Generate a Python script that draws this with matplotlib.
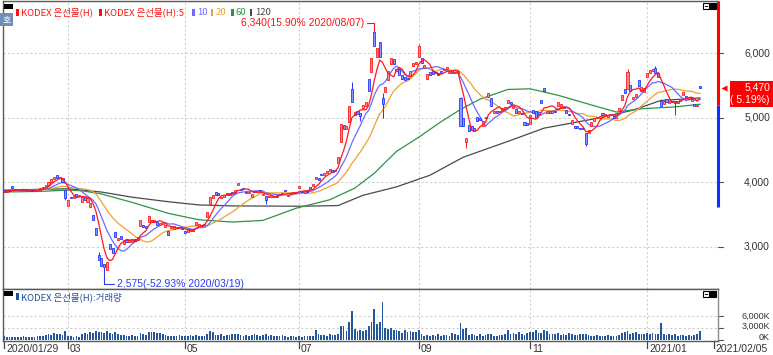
import numpy as np
import pandas as pd
import matplotlib
matplotlib.use('Agg')
import matplotlib.pyplot as plt
import matplotlib.transforms as mtrans
from matplotlib.patches import Rectangle

plt.rcParams['font.family'] = ['Noto Sans CJK KR', 'DejaVu Sans']
NUM = ['Liberation Sans', 'DejaVu Sans']   # narrow digits for the scales

# ---- data (KRW, volume in thousands) ----
opens = [
    3880, 3850, 3875, 3950, 3900, 3880, 3895, 3875, 3890, 3870,
    3885, 3870, 3885, 3880, 3905, 3935, 3960, 4010, 4050, 4110,
    4060, 4060, 3880, 3640, 3770, 3750, 3820, 3790, 3700, 3770,
    3690, 3620, 3500, 3290, 2880, 2820, 2740, 2640, 3050, 2980,
    3230, 3100, 3170, 3050, 3100, 3070, 3080, 3120, 3100, 3330,
    3340, 3330, 3380, 3380, 3390, 3380, 3340, 3350, 3310, 3250,
    3290, 3280, 3290, 3300, 3300, 3250, 3230, 3250, 3240, 3340,
    3330, 3320, 3340, 3460, 3660, 3760, 3850, 3840, 3750, 3770,
    3800, 3810, 3850, 3840, 3960, 3900, 3910, 3850, 3840, 3780,
    3870, 3850, 3880, 3800, 3790, 3770, 3780, 3790, 3780, 3800,
    3820, 3880, 3790, 3820, 3830, 3840, 3920, 3860, 3840, 3860,
    3930, 3950, 4050, 4060, 4130, 4120, 4150, 4180, 4190, 4170,
    4300, 4620, 4890, 4830, 4940, 5450, 5050, 5100, 5070, 5150,
    5190, 5600, 5710, 6330, 5950, 6180, 5300, 5400, 5580, 5830,
    5910, 5720, 5750, 5670, 5640, 5620, 5650, 5800, 5830, 5950,
    5920, 5780, 5600, 5710, 5720, 5700, 5700, 5730, 5740, 5760,
    5700, 5740, 5700, 5700, 5300, 5000, 4620, 4890, 4870, 4850,
    5010, 5000, 4880, 5010, 5330, 5310, 5080, 5110, 5090, 5110,
    5140, 5230, 5250, 5160, 5140, 5070, 5080, 4940, 4920, 4900,
    5120, 5100, 5090, 5280, 5460, 5080, 5110, 5070, 5110, 5180,
    5170, 5150, 5120, 5060, 4900, 4880, 4880, 4850, 4840, 4760,
    4770, 4880, 4950, 4990, 5000, 5070, 5030, 5020, 5040, 5030,
    5000, 5100, 5280, 5450, 5440, 5510, 5290, 5330, 5590, 5420,
    5400, 5630, 5690, 5720, 5770, 5700, 5260, 5220, 5290, 5230,
    5260, 5260, 5230, 5260, 5360, 5340, 5290, 5260, 5220, 5180,
    5490,
]
closes = [
    3850, 3875, 3865, 3905, 3885, 3895, 3880, 3890, 3875, 3885,
    3870, 3885, 3875, 3905, 3935, 3960, 4010, 4050, 4090, 4070,
    4085, 4000, 3760, 3730, 3750, 3790, 3790, 3810, 3770, 3720,
    3760, 3680, 3420, 3190, 2800, 2710, 2690, 2770, 2960, 2900,
    3150, 3140, 3120, 3100, 3070, 3110, 3120, 3090, 3150, 3410,
    3310, 3300, 3480, 3420, 3420, 3340, 3370, 3380, 3340, 3190,
    3310, 3320, 3310, 3290, 3270, 3210, 3260, 3270, 3270, 3390,
    3360, 3340, 3360, 3540, 3770, 3800, 3810, 3800, 3780, 3800,
    3830, 3840, 3820, 3880, 3995, 3880, 3890, 3840, 3850, 3820,
    3850, 3860, 3860, 3820, 3720, 3790, 3800, 3780, 3800, 3810,
    3840, 3860, 3810, 3830, 3840, 3850, 3940, 3850, 3860, 3850,
    3900, 3980, 4080, 4030, 4110, 4140, 4170, 4210, 4160, 4190,
    4400, 4900, 4820, 4870, 5180, 5250, 5090, 5060, 5030, 5200,
    5240, 5420, 5920, 6110, 6080, 5950, 5220, 5480, 5720, 5930,
    5830, 5760, 5660, 5600, 5580, 5600, 5720, 5850, 5870, 6120,
    5850, 5820, 5680, 5660, 5680, 5690, 5660, 5690, 5760, 5790,
    5730, 5690, 5710, 5720, 4870, 4870, 4690, 4790, 4810, 4800,
    4950, 4960, 4950, 4990, 5390, 5180, 5110, 5080, 5100, 5150,
    5170, 5280, 5220, 5190, 5080, 5100, 5060, 4890, 4890, 5040,
    5080, 4990, 5060, 5230, 5410, 5110, 5080, 5100, 5090, 5240,
    5220, 5170, 5070, 5040, 4970, 4840, 4850, 4830, 4820, 4600,
    4810, 4930, 4990, 5020, 5030, 5040, 5060, 5050, 5060, 5000,
    5030, 5160, 5350, 5390, 5710, 5420, 5330, 5370, 5490, 5480,
    5460, 5690, 5740, 5760, 5700, 5630, 5180, 5260, 5240, 5260,
    5240, 5230, 5260, 5290, 5400, 5300, 5320, 5290, 5180, 5200,
    5470,
]
volume_k = [
    900, 700, 800, 750, 850, 700, 800, 900, 750, 800,
    850, 700, 900, 1000, 1100, 1300, 1500, 1200, 1700, 1400,
    1600, 1300, 2200, 1000, 900, 800, 900, 700, 1500, 1800,
    1400, 2000, 1700, 2200, 1900, 2100, 1800, 2200, 1700, 1500,
    1900, 1400, 1300, 1200, 900, 1000, 1300, 1100, 1000, 1700,
    1400, 1200, 2100, 1900, 2000, 1700, 1800, 1500, 1200, 1000,
    1100, 900, 1000, 1200, 900, 1000, 1100, 1300, 1000, 1200,
    900, 1100, 1000, 1600, 2200, 2100, 1300, 1200, 1400, 1100,
    1300, 1200, 1500, 1400, 1600, 1300, 1100, 1200, 1000, 1300,
    1500, 1200, 1100, 1300, 1400, 1000, 1200, 1100, 900, 1000,
    1200, 900, 800, 1000, 900, 800, 900, 700, 1000, 900,
    1100, 900, 2400, 1500, 1200, 1300, 1100, 1400, 1200, 1300,
    1500, 3500, 3400, 2200, 4400, 7200, 2700, 2300, 2500, 2200,
    2600, 3500, 4400, 7800, 3900, 4500, 9500, 3000, 2800, 3100,
    2600, 2400, 2200, 1700, 2400, 2000, 2300, 1900, 2100, 2600,
    1500, 1000, 1200, 900, 1300, 1100, 1400, 1000, 1200, 1300,
    1100, 1700, 1400, 1200, 4200, 2800, 3000, 1300, 1500, 1200,
    1000, 1400, 1100, 1300, 1600, 1500, 1100, 1000, 1200, 1300,
    1400, 2600, 1400, 1800, 1600, 2100, 1500, 1200, 1700, 1900,
    2000, 2400, 1700, 1800, 2600, 2300, 1400, 1500, 1400, 1700,
    1300, 1600, 1300, 1800, 1400, 1200, 1300, 1500, 1400, 1600,
    1200, 1100, 1000, 1200, 900, 1100, 1000, 1200, 900, 1000,
    1100, 1300, 1700, 1900, 2200, 1500, 1700, 2000, 1400, 1600,
    1500, 1700, 1600, 1800, 1500, 1400, 4200, 1600, 1300, 1500,
    1200, 1400, 1100, 1200, 1300, 1000, 1200, 1100, 1300, 1600,
    2200,
]
# wicks that reach past the candle body
wick_hi_idx = [19, 34, 125, 133, 136, 149, 164, 224, 234]
wick_hi_val = [4120, 2920, 5560, 6340, 5380, 6150, 5320, 5750, 5800]
wick_lo_idx = [22, 36, 94, 128, 136, 166, 209, 241]
wick_lo_val = [3720, 2575, 3660, 4950, 4990, 4540, 4560, 5040]

# long averages (history before the window is not on screen, so read them off)
ma60_idx = [0, 13, 23, 28, 35, 46, 59, 70, 82, 93, 105, 117, 126, 133, 141,
            149, 157, 164, 171, 181, 189, 199, 211, 220, 229, 241, 250]
ma60_val = [3850, 3860, 3880, 3870, 3820, 3690, 3520, 3420, 3385, 3410, 3600,
            3730, 3910, 4140, 4480, 4700, 4940, 5130, 5290, 5440, 5450, 5350,
            5200, 5090, 5140, 5170, 5210]
ma120_idx = [0, 23, 35, 46, 59, 70, 82, 106, 120, 129, 141, 153, 165, 182,
             194, 204, 214, 226, 236, 244, 250]
ma120_val = [3880, 3900, 3850, 3770, 3700, 3650, 3635, 3630, 3640, 3800, 3930,
             4110, 4390, 4650, 4840, 4920, 5000, 5120, 5270, 5290, 5310]

tick_idx = [0, 23, 65, 106, 149, 189, 231, 255]
tick_lab = ['2020/01/29', '03', '05', '07', '09', '11', '2021/01', '2021/02/05']
price_ticks = [3000, 4000, 5000, 6000]
vol_ticks = [0, 3000, 6000]

last_close = 5470
last_pct = '( 5.19%)'
hi_label = '6,340(15.90% 2020/08/07)'
lo_label = '2,575(-52.93% 2020/03/19)'
range_mid = 5200
range_low = 3620

RED = '#ff1a1a'
BLUE = '#2236ff'
C10 = '#6a6aff'
C20 = '#f0a030'
C60 = '#2e9444'
C120 = '#4a4a4a'
GRID = '#cfcfcf'
TXT = '#333333'

W, H = 773, 355
fig = plt.figure(figsize=(W / 100, H / 100), dpi=100)


def box(l, t, r, b):
    return [l / W, 1 - b / H, (r - l) / W, (b - t) / H]


def ftext(x, y, s, **kw):
    return fig.text(x / W, 1 - y / H, s, **kw)


def fpatch(x, y, w, h, **kw):
    fig.add_artist(Rectangle((x / W, 1 - (y + h) / H), w / W, h / H,
                             transform=fig.transFigure, **kw))


ax = fig.add_axes(box(3, 1, 718, 289))
axv = fig.add_axes(box(3, 289, 718, 341), sharex=ax)

o = np.array(opens, float)
c = np.array(closes, float)
v = np.array(volume_k, float)
n = len(c)
x = np.arange(n)
hi = np.maximum(o, c)
lo = np.minimum(o, c)
for i, val in zip(wick_hi_idx, wick_hi_val):
    hi[i] = max(hi[i], val)
for i, val in zip(wick_lo_idx, wick_lo_val):
    lo[i] = min(lo[i], val)

s = pd.Series(c)
ma5 = s.rolling(5, min_periods=1).mean()
ma10 = s.rolling(10, min_periods=1).mean()
ma20 = s.rolling(20, min_periods=1).mean()

# grid
for t in price_ticks:
    ax.axhline(t, color=GRID, lw=0.8, ls=(0, (2, 2)), zorder=0)
for t in tick_idx[1:-1]:
    ax.axvline(t, color=GRID, lw=0.8, ls=(0, (2, 2)), zorder=0)
    axv.axvline(t, color=GRID, lw=0.8, ls=(0, (2, 2)), zorder=0)
for t in vol_ticks[1:]:
    axv.axhline(t, color=GRID, lw=0.8, ls=(0, (2, 2)), zorder=0)

# moving averages
ax.plot(ma120_idx, ma120_val, color=C120, lw=0.9, zorder=2)
ax.plot(ma60_idx, ma60_val, color=C60, lw=0.9, zorder=2)
ax.plot(x, ma20, color=C20, lw=0.9, zorder=2)
ax.plot(x, ma10, color=C10, lw=0.9, zorder=2)
ax.plot(x, ma5, color=RED, lw=0.9, zorder=4)

# candles
up = c >= o
cols = np.where(up, RED, BLUE)
faces = np.where(up, '#ff8c8c', '#8c96ff')
ax.vlines(x, lo, hi, colors=cols, lw=0.7, zorder=3)
ax.bar(x, np.maximum(np.abs(c - o), 14), bottom=np.minimum(o, c), width=0.75,
       color=faces, edgecolor=cols, linewidth=0.6, zorder=3)

# volume
axv.bar(x, v, width=0.62, color='#24589a', linewidth=0, zorder=2)

ax.set_xlim(-0.36, 256.5)
ax.set_ylim(2347, 6811)
axv.set_ylim(-250, 12750)

for a in (ax, axv):
    a.tick_params(left=False, right=False, bottom=False, top=False,
                  labelleft=False, labelbottom=False)
    for sp in a.spines.values():
        sp.set_color('#5a5a5a')
        sp.set_linewidth(1.0)
ax.spines['right'].set_visible(False)
axv.spines['right'].set_color('#8a8a8a')

# right side price labels
tr = mtrans.blended_transform_factory(ax.transAxes, ax.transData)
for t in price_ticks:
    ax.text((770 - 3) / 715, t, f'{t:,}', transform=tr, ha='right',
            va='center', fontsize=7.5, color=TXT, family=NUM)
    ax.plot([1.0, 1.0 + 5 / 715], [t, t], transform=tr, color='#555555',
            lw=0.8, clip_on=False)
ax.plot([1.0, 1.0], [6811, range_mid], transform=tr, color='#ff0000', lw=2.2,
        clip_on=False, solid_capstyle='butt')
ax.plot([1.0, 1.0], [range_mid, range_low], transform=tr, color='#1030ff',
        lw=2.2, clip_on=False, solid_capstyle='butt')
ax.plot([1.0 + 6 / 715], [last_close], marker='<', ms=4.5, color='#ff0000',
        transform=tr, clip_on=False, mec='none')

# volume labels: the chart nudges them apart near the baseline
trv = mtrans.blended_transform_factory(axv.transAxes, axv.transData)
nudge = {0: 1.6, 3000: 1.4, 6000: 0.0}
for t in vol_ticks:
    axv.plot([1.0, 1.0 + 5 / 715], [t, t], transform=trv, color='#555555',
             lw=0.8, clip_on=False)
    axv.text((770 - 3) / 715, t, f'{t:,}K', ha='right', va='center',
             fontsize=6.5, color=TXT, family=NUM,
             transform=mtrans.offset_copy(trv, fig=fig, y=nudge[t],
                                          units='points'))

# current price box
fig.canvas.draw()
yd = ax.transData.transform((0, last_close))[1]
fig.add_artist(Rectangle((730, yd - 19), 43, 26, transform=None,
                         color='#ff0000', lw=0))
fig.text(770 / W, yd / H, f'{last_close:,}', ha='right', va='center',
         fontsize=7.5, color='white', family=NUM)
fig.text(770 / W, (yd - 12) / H, last_pct, ha='right', va='center',
         fontsize=7.5, color='white', family=NUM)

# high / low annotations
i_hi = int(np.argmax(hi))
i_lo = int(np.argmin(lo))
ax.annotate(hi_label, xy=(i_hi, hi[i_hi]), xytext=(-7, 6),
            textcoords='offset points', ha='right', va='center', fontsize=7.5,
            color='#ff1010', annotation_clip=False, family=NUM,
            arrowprops=dict(arrowstyle='-', color='#ff1010', lw=0.8,
                            shrinkA=0, shrinkB=0,
                            connectionstyle='angle,angleA=0,angleB=90,rad=0'))
ax.annotate(lo_label, xy=(i_lo, lo[i_lo]), xytext=(9, -7),
            textcoords='offset points', ha='left', va='center', fontsize=7.5,
            color='#2a3cf0', annotation_clip=False, family=NUM,
            arrowprops=dict(arrowstyle='-', color='#2a3cf0', lw=0.8,
                            shrinkA=0, shrinkB=0,
                            connectionstyle='angle,angleA=0,angleB=90,rad=0'))

# x tick labels under the volume panel
trx = mtrans.blended_transform_factory(axv.transData, axv.transAxes)
for t, lab in zip(tick_idx, tick_lab):
    axv.plot([t, t], [0, -7 / 52], transform=trx, color='#444444', lw=0.9,
             clip_on=False)
    axv.text(t + 0.7, -8.5 / 52, lab, transform=trx, ha='left', va='center',
             fontsize=7.5, color=TXT, family=NUM)

# legend strip, main panel
fpatch(4, 4, 9, 5, color='black', lw=0)
leg = [(16, 'KODEX 은선물(H)', '#ff1010'), (99, 'KODEX 은선물(H):5', '#ff1010'),
       (192, '10', C10), (211, '20', C20), (231, '60', C60), (250, '120', C120)]
for lx, lab, col in leg:
    fpatch(lx, 9, 2.5, 7, color=col, lw=0)
    ftext(lx + 5, 12.5, lab, ha='left', va='center', fontsize=6.8, color=col)

# '호' tab
fpatch(0, 13, 13, 13, color='#6f8fba', lw=0)
ftext(6.5, 19.5, '호', ha='center', va='center', fontsize=6.5, color='white')

# window buttons
for by in (3, 291):
    fpatch(703, by, 6, 6, facecolor='white', edgecolor='black', lw=0.8)
    fpatch(704.5, by + 2.5, 3, 1.5, color='black', lw=0)
    fpatch(710, by, 6, 6, facecolor='black', edgecolor='black', lw=0.8)

# legend strip, volume panel
fpatch(4, 291, 9, 5, color='black', lw=0)
fpatch(16, 293, 2.5, 7, color='#2050a0', lw=0)
ftext(21, 297, 'KODEX 은선물(H):거래량', ha='left', va='center', fontsize=6.8,
      color='#2050a0')

fig.savefig('out.png', dpi=100)
